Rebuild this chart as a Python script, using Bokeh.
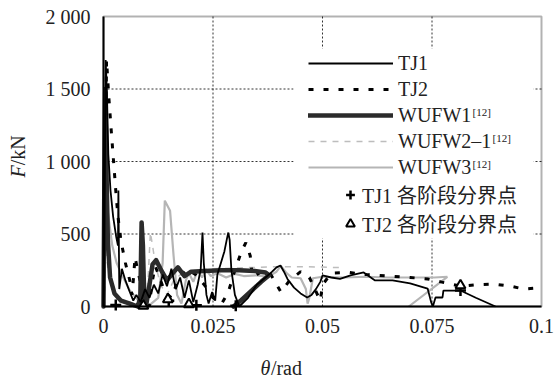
import math
from bokeh.plotting import figure
from bokeh.models import (FixedTicker, Legend, LegendItem, Label, BoxAnnotation, Range1d,
                          LinearAxis)
from bokeh.embed import file_html
from bokeh.resources import INLINE

x_ticks = [0, 0.025, 0.05, 0.075, 0.1]
x_tick_labels = ["0", "0.025", "0.05", "0.075", "0.1"]
y_ticks = [0, 500, 1000, 1500, 2000]
y_tick_labels = ["0", "500", "1 000", "1 500", "2 000"]

# (theta rad, F kN)
TJ1 = [(0, 0), (0.0002, 400), (0.0005, 1700), (0.0008, 1450), (0.0011, 1050), (0.0016, 800),
       (0.0022, 620), (0.0029, 480), (0.0033, 420), (0.0034, 800), (0.0036, 120), (0.0042, 260),
       (0.005, 180), (0.006, 100), (0.0068, 40), (0.0075, 80), (0.0085, 30), (0.0095, 120),
       (0.0105, 60), (0.0115, 150), (0.0125, 90), (0.0135, 220), (0.0145, 140), (0.0155, 260),
       (0.0165, 120), (0.0175, 200), (0.0185, 60), (0.0195, 180), (0.0205, 30), (0.0215, 150),
       (0.0222, 260), (0.0226, 510), (0.0229, 300), (0.0235, 80), (0.024, 20), (0.0248, 100),
       (0.0255, 40), (0.026, 220), (0.0268, 300), (0.0276, 380), (0.0282, 470), (0.0285, 510),
       (0.0288, 460), (0.0292, 250), (0.03, 80), (0.031, 0), (0.033, 60), (0.035, 150),
       (0.037, 200), (0.0385, 240), (0.0395, 270), (0.0404, 283), (0.0412, 240), (0.042, 190),
       (0.0435, 130), (0.045, 90), (0.0465, 62), (0.0475, 80), (0.0485, 120), (0.0495, 170),
       (0.05, 214), (0.052, 200), (0.054, 190), (0.0564, 214), (0.0594, 235), (0.062, 180),
       (0.066, 180), (0.07, 160), (0.074, 124), (0.0748, 30), (0.0752, 0), (0.0758, 62),
       (0.0774, 62), (0.0776, 110), (0.0815, 110), (0.085, 60), (0.0895, 0)]

TJ2 = [(0, 0), (0.0003, 700), (0.0007, 1700), (0.0012, 1450), (0.0018, 1200), (0.0023, 1000),
       (0.0028, 800), (0.0033, 620), (0.004, 450), (0.005, 300), (0.006, 180), (0.0065, 80),
       (0.0068, 180), (0.0072, 340), (0.0078, 250), (0.0088, 120), (0.0098, 40), (0.0105, 0),
       (0.011, 150), (0.0118, 280), (0.0128, 200), (0.014, 100), (0.0155, 60), (0.017, 180),
       (0.019, 260), (0.021, 220), (0.023, 150), (0.025, 60), (0.027, 20), (0.0285, 100),
       (0.03, 250), (0.0315, 380), (0.0325, 440), (0.0335, 350), (0.034, 200), (0.036, 240),
       (0.038, 230), (0.0405, 100), (0.0425, 180), (0.045, 240), (0.047, 200), (0.0495, 40),
       (0.05, 150), (0.052, 230), (0.056, 235), (0.06, 220), (0.065, 210), (0.07, 200),
       (0.074, 190), (0.077, 170), (0.0815, 140), (0.085, 150), (0.089, 155), (0.093, 140),
       (0.096, 120), (0.1, 130)]

WUFW1 = [(0, 0), (0.0002, 900), (0.0004, 1500), (0.0007, 900), (0.001, 450), (0.0015, 200),
         (0.0025, 90), (0.004, 40), (0.006, 20), (0.0078, 0), (0.0084, 60), (0.0087, 580),
         (0.009, 420), (0.0093, 60), (0.0098, 20), (0.0105, 150), (0.0112, 290), (0.012, 320),
         (0.013, 260), (0.0145, 180), (0.0158, 230), (0.017, 270), (0.0185, 210), (0.02, 240),
         (0.023, 245), (0.027, 250), (0.031, 250), (0.0345, 245), (0.037, 235), (0.0378, 215),
         (0.036, 170), (0.0335, 100), (0.0315, 45), (0.0297, 0)]

WUFW2_1 = [(0, 0), (0.0002, 650), (0.0005, 450), (0.001, 250), (0.002, 120), (0.004, 50),
           (0.007, 20), (0.0095, 0), (0.0102, 200), (0.0107, 510), (0.0112, 420), (0.0118, 300),
           (0.013, 150), (0.0145, 80), (0.016, 180), (0.018, 230), (0.021, 250), (0.025, 260),
           (0.03, 265), (0.035, 270), (0.04, 275), (0.045, 275), (0.05, 272), (0.054, 268)]

WUFW3 = [(0, 0), (0.0001, 600), (0.0002, 1200), (0.0005, 950), (0.001, 650), (0.002, 420),
         (0.003, 300), (0.0045, 200), (0.006, 110), (0.008, 40), (0.0105, 10), (0.0125, 60),
         (0.0135, 300), (0.014, 730), (0.0152, 660), (0.016, 350), (0.0168, 80), (0.0178, 20),
         (0.0188, 180), (0.0195, 230), (0.0205, 170), (0.0215, 250), (0.0225, 200), (0.0235, 250),
         (0.0245, 210), (0.026, 230), (0.028, 200), (0.03, 225), (0.032, 210), (0.035, 215),
         (0.0375, 205), (0.0395, 240), (0.0405, 280), (0.0418, 230), (0.043, 200), (0.045, 195),
         (0.0462, 120), (0.0466, 20), (0.047, 60), (0.0478, 195), (0.05, 205), (0.055, 200),
         (0.06, 205), (0.065, 200), (0.07, 200), (0.0755, 200), (0.0785, 205), (0.0697, 0)]

TJ1_stage_theta = [0.0028, 0.0149, 0.0212, 0.0302, 0.0815]
TJ1_stage_F = [10, 40, 8, 5, 110]
TJ2_stage_theta = [0.0091, 0.0147, 0.0195, 0.0815]
TJ2_stage_F = [5, 50, 15, 145]

SERIF = "Liberation Serif"
CJK = "Liberation Serif, Noto Sans CJK SC"
TXT = "#222222"

# canvas geometry: plot box spans px 103..541 (x) and 16..306 (y) of a 556x378 canvas
W, H = 556, 378
BOX_L, BOX_R, BOX_T, BOX_B = 103, 541, 16, 306
xs_per_px = (x_ticks[-1] - x_ticks[0]) / (BOX_R - BOX_L)
ys_per_px = (y_ticks[-1] - y_ticks[0]) / (BOX_B - BOX_T)
x_range = Range1d(x_ticks[0] - BOX_L * xs_per_px, x_ticks[-1] + (W - BOX_R) * xs_per_px)
y_range = Range1d(y_ticks[0] - (H - BOX_B) * ys_per_px, y_ticks[-1] + BOX_T * ys_per_px)

p = figure(width=W, height=H, x_range=x_range, y_range=y_range,
           output_backend="svg", toolbar_location=None, title=None,
           x_axis_location=None, y_axis_location=None, min_border=0)
p.background_fill_color = "white"
p.border_fill_color = "white"
p.outline_line_color = None
for g in p.grid:
    g.visible = False

# axes fixed on the data origin
xaxis = LinearAxis(fixed_location=y_ticks[0], bounds=(x_ticks[0], x_ticks[-1]),
                   ticker=FixedTicker(ticks=x_ticks),
                   major_label_overrides={t: l for t, l in zip(x_ticks, x_tick_labels)},
                   major_label_standoff=12)
yaxis = LinearAxis(fixed_location=x_ticks[0], bounds=(y_ticks[0], y_ticks[-1]),
                   ticker=FixedTicker(ticks=y_ticks),
                   major_label_overrides={t: l for t, l in zip(y_ticks, y_tick_labels)},
                   major_label_standoff=13)
for ax in (xaxis, yaxis):
    ax.axis_line_color = "black"
    ax.axis_line_width = 2
    ax.major_tick_line_color = None
    ax.minor_tick_line_color = None
    ax.major_tick_out = 0
    ax.major_tick_in = 0
    ax.major_label_text_font = SERIF
    ax.major_label_text_font_size = "20px"
    ax.major_label_text_color = TXT
p.add_layout(xaxis, "below")
p.add_layout(yaxis, "left")

# dotted grid inside the plot box
gx = x_ticks[1:-1]
gy = y_ticks[1:-1]
p.segment(x0=gx, x1=gx, y0=[y_ticks[0]] * len(gx), y1=[y_ticks[-1]] * len(gx),
          line_color="#333333", line_width=1, line_dash="2 2", level="underlay")
p.segment(x0=[x_ticks[0]] * len(gy), x1=[x_ticks[-1]] * len(gy), y0=gy, y1=gy,
          line_color="#333333", line_width=1, line_dash="2 2", level="underlay")


def xs(s):
    return [a for a, _ in s]


def ys(s):
    return [b for _, b in s]


r_w3 = p.line(xs(WUFW3), ys(WUFW3), line_color="#b5b5b5", line_width=2.2)
r_w21 = p.line(xs(WUFW2_1), ys(WUFW2_1), line_color="#bdbdbd", line_width=1.5, line_dash="6 6")
r_tj2 = p.line(xs(TJ2), ys(TJ2), line_color="black", line_width=3, line_dash="5 10")
r_w1 = p.line(xs(WUFW1), ys(WUFW1), line_color="#2b2b2b", line_width=4.5,
              line_cap="round", line_join="round")
r_tj1 = p.line(xs(TJ1), ys(TJ1), line_color="black", line_width=1.8)

r_m1 = p.scatter(TJ1_stage_theta, TJ1_stage_F, marker="cross", size=11,
                 line_color="black", line_width=2.5)
r_m2 = p.scatter(TJ2_stage_theta, TJ2_stage_F, marker="triangle", size=10,
                 line_color="black", line_width=2, fill_color="white")

# plot box (top and right borders)
p.add_layout(BoxAnnotation(left=x_ticks[0], right=x_ticks[-1], bottom=y_ticks[0], top=y_ticks[-1],
                           fill_alpha=0, line_color="black", line_width=2))
# white area behind legend (hides the grid there)
p.add_layout(BoxAnnotation(left=0.0434, right=0.0982, bottom=469, top=1779,
                           fill_color="white", fill_alpha=1, line_color=None))

leg1 = Legend(items=[LegendItem(label="TJ1", renderers=[r_tj1]),
                     LegendItem(label="TJ2", renderers=[r_tj2]),
                     LegendItem(label="WUFW1", renderers=[r_w1]),
                     LegendItem(label="WUFW2\u20131", renderers=[r_w21]),
                     LegendItem(label="WUFW3", renderers=[r_w3])],
              location=(308, H - 180), glyph_width=85, glyph_height=26, label_height=26,
              label_standoff=5, spacing=0, padding=0, margin=0,
              border_line_color=None, background_fill_alpha=0,
              label_text_font=SERIF, label_text_font_size="20px", label_text_color=TXT)
p.add_layout(leg1)

leg2 = Legend(items=[LegendItem(label="TJ1 各阶段分界点", renderers=[r_m1]),
                     LegendItem(label="TJ2 各阶段分界点", renderers=[r_m2])],
              location=(339, H - 237.5), glyph_width=22, glyph_height=25, label_height=25,
              label_standoff=1, spacing=0, padding=0, margin=0,
              border_line_color=None, background_fill_alpha=0,
              label_text_font=CJK, label_text_font_size="20px", label_text_color=TXT)
p.add_layout(leg2)


def lab(px, py, text, size="20px", style="normal", angle=0, align="left", baseline="middle"):
    # px, py: canvas pixels from the top-left corner
    p.add_layout(Label(x=px, y=H - py, x_units="screen", y_units="screen", text=text,
                       text_font=SERIF, text_font_size=size, text_font_style=style,
                       text_color=TXT, angle=angle, text_align=align, text_baseline=baseline))


# superscript references
lab(472, 111, "[12]", size="11px")
lab(492, 137, "[12]", size="11px")
lab(472, 163, "[12]", size="11px")

# axis titles
lab(17, 177, "F", style="italic", angle=math.pi / 2)
lab(17, 164.8, "/kN", angle=math.pi / 2)
lab(260, 367, "\u03b8", style="italic")
lab(270.4, 367, "/rad")

open("out.html", "w").write(file_html(p, INLINE))
